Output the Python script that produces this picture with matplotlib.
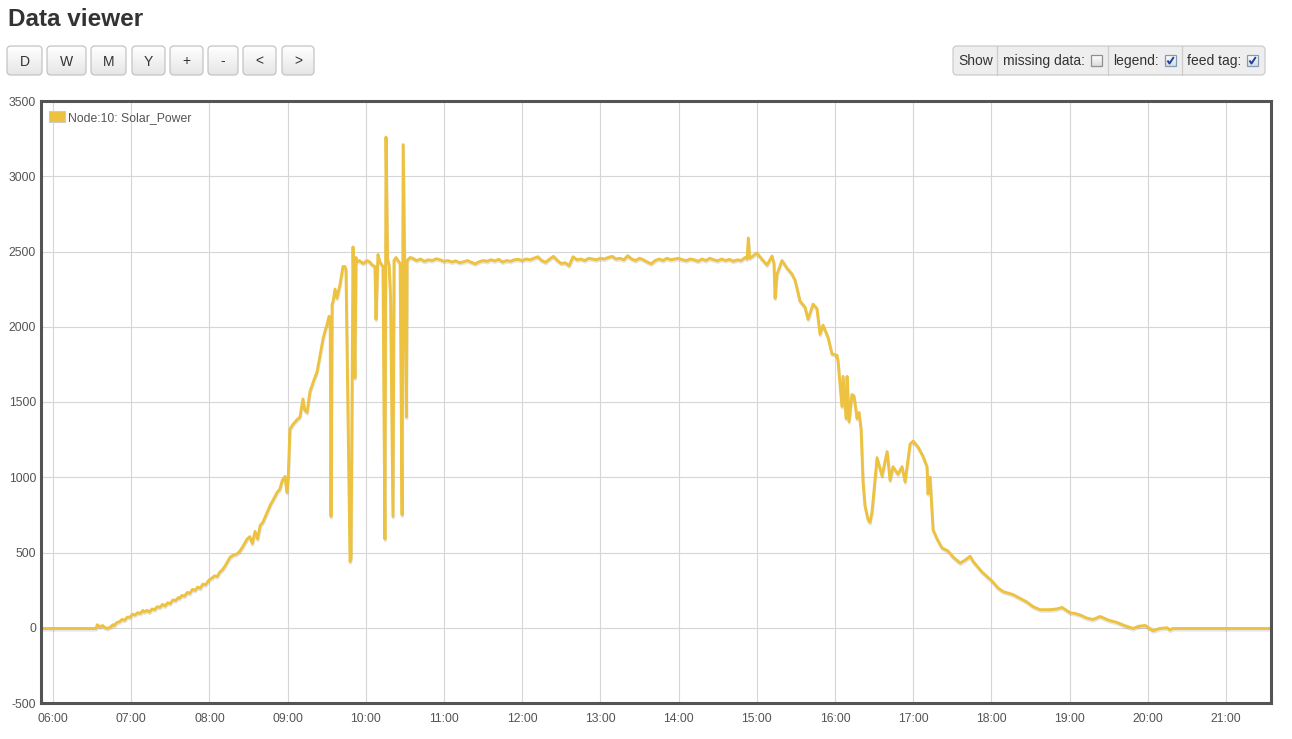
import matplotlib
matplotlib.use('Agg')
import matplotlib.pyplot as plt
import matplotlib.patheffects as pe
from matplotlib.patches import FancyBboxPatch, Rectangle, Patch
from matplotlib.colors import LinearSegmentedColormap
import numpy as np

plt.rcParams['font.family'] = ['Liberation Sans', 'DejaVu Sans']

TITLE = "Data viewer"
BUTTONS = ["D", "W", "M", "Y", "+", "-", "<", ">"]
SHOW_ITEMS = [("missing data:", False), ("legend:", True), ("feed tag:", True)]
SERIES_LABEL = "Node:10: Solar_Power"
SERIES_COLOR = "#edc240"

Y_TICKS = [-500, 0, 500, 1000, 1500, 2000, 2500, 3000, 3500]
X_TICK_HOURS = list(range(6, 22))
X_RANGE = ("05:50:48", "21:34:30")

# readings (time of day, watts)
times_morning = [
    "05:50", "06:10", "06:33", "06:34", "06:36", "06:38", "06:40", "06:42", "06:44", "06:46",
    "06:47", "06:49", "06:51", "06:53", "06:55", "06:57", "06:59", "07:01", "07:03", "07:05",
    "07:07", "07:09", "07:10", "07:12", "07:14", "07:16", "07:18", "07:20", "07:22", "07:24",
    "07:26", "07:28", "07:30", "07:32", "07:34", "07:36", "07:37", "07:39", "07:41", "07:43",
    "07:45", "07:47", "07:49", "07:51", "07:53", "07:55", "07:57", "08:00", "08:02", "08:04",
    "08:06", "08:08", "08:10", "08:12", "08:14", "08:16", "08:19", "08:21", "08:23", "08:25",
    "08:27", "08:29", "08:31", "08:33", "08:35", "08:37", "08:39", "08:41", "08:43", "08:45",
    "08:47", "08:49", "08:52", "08:54", "08:56", "08:58", "08:59:30", "09:00:30",
]
watts_morning = [
    -5, -5, -5, 20, 5, 15, 0, -5, 5, 20,
    15, 35, 40, 55, 50, 70, 70, 90, 85, 100,
    95, 115, 105, 115, 105, 125, 120, 140, 135, 155,
    145, 165, 160, 185, 180, 200, 195, 215, 210, 235,
    228, 255, 248, 270, 262, 290, 285, 320, 330, 345,
    340, 370, 385, 410, 440, 470, 485, 490, 505, 530,
    560, 590, 605, 560, 640, 590, 680, 700, 740, 780,
    820, 850, 900, 920, 980, 1005, 900, 1000,
]

times_spikes = [
    "09:01:48", "09:04", "09:07", "09:09:30", "09:11:48", "09:13", "09:14:54", "09:17:12", "09:20", "09:22:36",
    "09:24:54", "09:27:12", "09:29", "09:30:12", "09:31:48", "09:32:40", "09:33:18", "09:34:10", "09:35", "09:36:24",
    "09:37:54", "09:40:12", "09:42:30", "09:44", "09:44:48", "09:47:54", "09:48:40", "09:50:12", "09:51:40", "09:52:30",
    "09:53:20", "09:55", "09:58", "10:00:54", "10:03", "10:05", "10:07", "10:07:50", "10:09:20", "10:10:50",
    "10:13:10", "10:14:40", "10:15:30", "10:16:40", "10:17:50", "10:19", "10:20:50", "10:21:40", "10:23:10", "10:26:20",
    "10:27:50", "10:28:40", "10:31:10", "10:31:40", "10:34",
]
watts_spikes = [
    1320, 1350, 1380, 1400, 1520, 1450, 1430, 1570, 1640, 1700,
    1810, 1920, 1980, 2010, 2070, 2060, 740, 2150, 2170, 2250,
    2190, 2280, 2400, 2400, 2380, 440, 460, 2530, 1660, 2460,
    2430, 2440, 2420, 2440, 2430, 2410, 2400, 2050, 2480, 2430,
    2400, 590, 3260, 2450, 2410, 2190, 740, 2440, 2460, 2420,
    750, 3210, 1400, 2440, 2460,
]

times_plateau = [
    "10:36", "10:39", "10:42", "10:45", "10:48", "10:51", "10:54", "10:57", "11:00", "11:03",
    "11:06", "11:09", "11:12", "11:15", "11:18", "11:21", "11:24", "11:27", "11:30", "11:33",
    "11:36", "11:39", "11:42", "11:45", "11:48", "11:51", "11:54", "11:57", "12:00", "12:03",
    "12:06", "12:09", "12:12", "12:15", "12:18", "12:21", "12:24", "12:27", "12:30", "12:33",
    "12:36", "12:39", "12:42", "12:45", "12:48", "12:51", "12:54", "12:57", "13:00", "13:03",
    "13:06", "13:09", "13:12", "13:15", "13:18", "13:21", "13:24", "13:27", "13:30", "13:33",
    "13:36", "13:39", "13:42", "13:45", "13:48", "13:51", "13:54", "13:57", "14:00", "14:03",
    "14:06", "14:09", "14:12", "14:15", "14:18", "14:21", "14:24", "14:27", "14:30", "14:33",
    "14:36", "14:39", "14:42", "14:45", "14:48", "14:51",
]
watts_plateau = [
    2455, 2440, 2450, 2435, 2445, 2440, 2452, 2445, 2435, 2440,
    2430, 2438, 2425, 2432, 2440, 2428, 2418, 2432, 2440, 2435,
    2445, 2438, 2448, 2430, 2440, 2435, 2445, 2448, 2440, 2450,
    2445, 2455, 2465, 2440, 2428, 2450, 2468, 2440, 2420, 2425,
    2405, 2465, 2445, 2450, 2440, 2455, 2450, 2445, 2455, 2450,
    2460, 2468, 2450, 2455, 2445, 2472, 2450, 2440, 2455, 2445,
    2430, 2418, 2440, 2450, 2440, 2455, 2445, 2450, 2455, 2445,
    2440, 2450, 2445, 2435, 2450, 2440, 2455, 2445, 2438, 2450,
    2440, 2448, 2435, 2445, 2440, 2460,
]

times_evening = [
    "14:52:30", "14:53:30", "14:54:30", "14:57", "15:00", "15:04:48", "15:07:50", "15:11:40", "15:13:10", "15:14",
    "15:15:30", "15:19:20", "15:23:10", "15:27", "15:29:20", "15:33:10", "15:37", "15:39:20", "15:43:10", "15:46:10",
    "15:48:30", "15:50:50", "15:54:40", "15:57:40", "16:01:30", "16:02:20", "16:05:20", "16:06:10", "16:08:30", "16:09:15",
    "16:10:45", "16:13", "16:14:35", "16:16:55", "16:18:25", "16:20", "16:21:30", "16:23", "16:25:20", "16:26:50",
    "16:28:25", "16:32:15", "16:36:05", "16:40", "16:42:15", "16:44:30", "16:48:20", "16:51:25", "16:53:45", "16:57:35",
    "17:00", "17:03:45", "17:07:30", "17:10:35", "17:11:20", "17:12:55", "17:15:15", "17:18:20", "17:22:10", "17:26:45",
    "17:30:35", "17:36", "17:39:50", "17:43:40", "17:46", "17:52:50", "18:00:30", "18:05", "18:09", "18:13",
    "18:16:40", "18:22", "18:27:25", "18:32", "18:37:20", "18:45", "18:50", "18:54:10", "19:00:20", "19:04",
    "19:08", "19:13", "19:18", "19:23:25", "19:30", "19:36:25", "19:42", "19:48:40", "19:53", "19:58",
    "20:04", "20:09", "20:14:50", "20:17", "20:19", "21:35",
]
watts_evening = [
    2450, 2590, 2455, 2470, 2490, 2440, 2410, 2470, 2420, 2190,
    2350, 2440, 2390, 2350, 2310, 2170, 2130, 2050, 2150, 2120,
    1950, 2010, 1930, 1820, 1810, 1770, 1470, 1670, 1390, 1670,
    1370, 1550, 1540, 1390, 1430, 1320, 970, 810, 720, 700,
    770, 1130, 1010, 1170, 980, 1070, 1020, 1070, 970, 1220,
    1240, 1200, 1140, 1070, 890, 1000, 650, 590, 530, 510,
    470, 430, 450, 475, 440, 370, 310, 265, 240, 230,
    220, 195, 170, 140, 120, 120, 125, 135, 100, 95,
    85, 65, 55, 75, 50, 35, 15, -5, 10, 15,
    -20, -5, 0, -15, -5, -5,
]


def to_hours(stamp):
    parts = [int(p) for p in stamp.split(':')]
    parts += [0] * (3 - len(parts))
    return parts[0] + parts[1] / 60 + parts[2] / 3600


times = times_morning + times_spikes + times_plateau + times_evening
watts = watts_morning + watts_spikes + watts_plateau + watts_evening
hours = np.array([to_hours(t) for t in times])

W, H = 1292, 739
fig = plt.figure(figsize=(W / 100, H / 100), dpi=100)
fig.patch.set_facecolor('white')

# page chrome, in pixel coordinates
ui = fig.add_axes([0, 0, 1, 1])
ui.set_zorder(0)
ui.axis('off')
btn_cmap = LinearSegmentedColormap.from_list('btn', ['#e6e6e6', '#ffffff'])

ui.text(8, 25.5, TITLE, fontsize=17.5, fontweight='bold', color='#333333',
        ha='left', va='baseline')


def button(x0, x1, y0, y1, label):
    box = FancyBboxPatch((x0, y0), x1 - x0, y1 - y0,
                         boxstyle="round,pad=0,rounding_size=4",
                         fc='none', ec='#c4c4c4', lw=0.9, zorder=3)
    ui.add_patch(box)
    grad = np.linspace(1, 0, 64).reshape(-1, 1)
    im = ui.imshow(grad, extent=(x0, x1, y1, y0), cmap=btn_cmap,
                   aspect='auto', origin='upper', zorder=2)
    im.set_clip_path(box)
    ui.text((x0 + x1) / 2, (y0 + y1) / 2 + 1, label, fontsize=10,
            color='#333333', ha='center', va='center', zorder=4)


btn_x = [(7, 42), (47, 86), (91, 126), (132, 165), (170, 203), (208, 238), (243, 276), (282, 314)]
for (x0, x1), lab in zip(btn_x, BUTTONS):
    button(x0, x1, 46, 75, lab)

# "Show" panel
panel = FancyBboxPatch((953, 46), 1265 - 953, 29, boxstyle="round,pad=0,rounding_size=4",
                       fc='#eeeeee', ec='#cccccc', lw=0.9, zorder=2)
ui.add_patch(panel)
for sx in [997, 1108, 1182]:
    ui.plot([sx, sx], [46, 75], color='#cccccc', lw=0.9, zorder=3)
ui.text(976, 61, "Show", fontsize=10, color='#333333', ha='center', va='center', zorder=4)
text_x = [1003, 1113, 1187]
box_x = [1091, 1165, 1247]
for (label, checked), tx, bx in zip(SHOW_ITEMS, text_x, box_x):
    ui.text(tx, 61, label, fontsize=10, color='#333333', ha='left', va='center', zorder=4)
    ec = '#7f9db9' if checked else '#8f8f8f'
    cb = Rectangle((bx, 55), 11, 11, fc='none', ec=ec, lw=0.9, zorder=5)
    ui.add_patch(cb)
    g = ui.imshow(np.linspace(1, 0, 32).reshape(-1, 1), extent=(bx, bx + 11, 66, 55),
                  cmap=LinearSegmentedColormap.from_list('cb', ['#dcdcdc', '#ffffff']),
                  aspect='auto', origin='upper', zorder=4)
    g.set_clip_path(cb)
    if checked:
        ui.plot([bx + 2.5, bx + 4.5, bx + 8.8], [60.5, 63.5, 57.0], color='#22409a',
                lw=1.4, zorder=6, solid_capstyle='butt')

ui.set_xlim(0, W)
ui.set_ylim(H, 0)

# chart
ax = fig.add_axes([41 / W, 1 - 703 / H, 1230 / W, 602 / H])
ax.set_zorder(1)
ax.plot(hours, watts, color=SERIES_COLOR, lw=2.1, solid_joinstyle='round',
        path_effects=[pe.SimpleLineShadow(offset=(0.3, -1.2), shadow_color='black', alpha=0.1),
                      pe.Normal()])

ax.set_xlim(to_hours(X_RANGE[0]), to_hours(X_RANGE[1]))
ax.set_ylim(Y_TICKS[0], Y_TICKS[-1])
ax.set_xticks(X_TICK_HOURS)
ax.set_xticklabels([f"{h:02d}:00" for h in X_TICK_HOURS])
ax.set_yticks(Y_TICKS)
ax.set_yticklabels([str(v) for v in Y_TICKS])
ax.tick_params(length=0, labelsize=8.8, colors='#545454')
ax.tick_params(axis='x', pad=7)
ax.tick_params(axis='y', pad=3.5)
ax.grid(color='#d6d6d6', lw=0.8)
ax.set_axisbelow(True)
for sp in ax.spines.values():
    sp.set_color('#545454')
    sp.set_linewidth(2.2)

leg = ax.legend(handles=[Patch(facecolor=SERIES_COLOR, edgecolor='#cccccc', lw=0.8)],
                labels=[SERIES_LABEL], loc='upper left', bbox_to_anchor=(0.0065, 0.983),
                frameon=False, handlelength=1.3, handleheight=1.0, handletextpad=0.25,
                borderaxespad=0, borderpad=0, fontsize=8.8, labelcolor='#545454')

fig.savefig('out.png', dpi=100)
